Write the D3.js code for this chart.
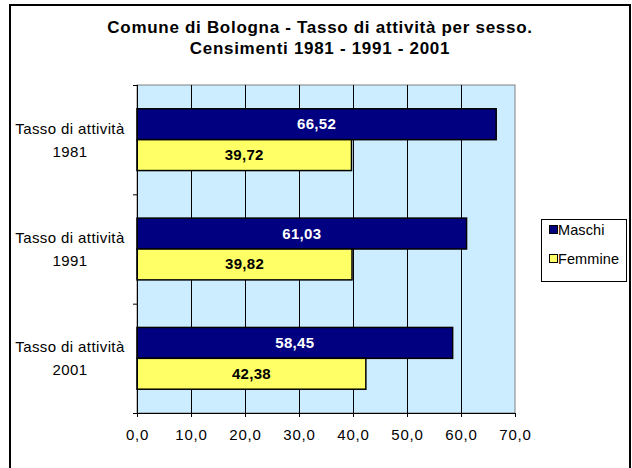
<!DOCTYPE html>
<html>
<head>
<meta charset="utf-8">
<script src="https://cdn.jsdelivr.net/npm/d3@7"></script>
<style>
  body { margin: 0; background: #fff; }
  text { font-family: "Liberation Sans", Arial, sans-serif; }
</style>
</head>
<body>
<div id="chart"></div>
<script>
// data
let years = ["1981", "1991", "2001"];
let series = ["Maschi", "Femmine"];
let maschi = [66.52, 61.03, 58.45];
let femmine = [39.72, 39.82, 42.38];
let xTicks = [0, 10, 20, 30, 40, 50, 60, 70];
let catLabel = "Tasso di attività";
let titleLines = ["Comune di Bologna - Tasso di attività per sesso.", "Censimenti 1981 - 1991 - 2001"];

let width = 632, height = 468;
let plot = {left: 137, right: 515, top: 85, bottom: 413};
let colors = {Maschi: "#000080", Femmine: "#FFFF66"};
let labelColors = {Maschi: "#FFFFFF", Femmine: "#000000"};

let svg = d3.select("#chart")
    .append("svg")
    .attr("width", width)
    .attr("height", height);

// outer frame
svg.append("rect")
    .attr("x", 10).attr("y", 5)
    .attr("width", 620).attr("height", 480)
    .attr("fill", "#fff")
    .attr("stroke", "#000")
    .attr("stroke-width", 2);

// title
svg.selectAll(".title").data(titleLines).enter()
    .append("text")
    .attr("class", "title")
    .attr("x", 320)
    .attr("y", (d, i) => 33 + i * 21)
    .attr("text-anchor", "middle")
    .style("font-size", "17px")
    .style("letter-spacing", "0.7px")
    .style("font-weight", "bold")
    .text(d => d);

let x = d3.scaleLinear()
    .domain([0, 70])
    .range([plot.left, plot.right]);

let y = d3.scaleBand()
    .domain(years)
    .range([plot.top, plot.bottom]);

let ySub = d3.scaleBand()
    .domain(series)
    .range([0, y.bandwidth()])
    .paddingInner(0)
    .paddingOuter(0.77);

// plot background
svg.append("rect")
    .attr("x", plot.left).attr("y", plot.top)
    .attr("width", plot.right - plot.left)
    .attr("height", plot.bottom - plot.top)
    .attr("fill", "#CCECFF")
    .attr("stroke", "#808080")
    .attr("stroke-width", 1);

// vertical gridlines
svg.append("g")
    .selectAll("line")
    .data(xTicks.filter(d => d > 0 && d < 70))
    .enter().append("line")
    .attr("x1", d => Math.round(x(d)) + 0.5)
    .attr("x2", d => Math.round(x(d)) + 0.5)
    .attr("y1", plot.top)
    .attr("y2", plot.bottom)
    .attr("stroke", "#000");

// bars
let rows = [];
years.forEach((yr, i) => {
    rows.push({year: yr, s: "Maschi", v: maschi[i]});
    rows.push({year: yr, s: "Femmine", v: femmine[i]});
});

svg.append("g").selectAll("rect")
    .data(rows)
    .enter().append("rect")
    .attr("x", x(0))
    .attr("y", d => y(d.year) + ySub(d.s))
    .attr("width", d => x(d.v) - x(0))
    .attr("height", ySub.bandwidth())
    .attr("fill", d => colors[d.s])
    .attr("stroke", "#000")
    .attr("stroke-width", 1.5);

svg.append("g").selectAll("text")
    .data(rows)
    .enter().append("text")
    .attr("x", d => (x(0) + x(d.v)) / 2)
    .attr("y", d => y(d.year) + ySub(d.s) + ySub.bandwidth() / 2 + 5)
    .attr("text-anchor", "middle")
    .style("font-size", "15px")
    .style("letter-spacing", "0.3px")
    .style("font-weight", "bold")
    .attr("fill", d => labelColors[d.s])
    .text(d => d.v.toFixed(2).replace(".", ","));

// x axis
let xAxis = svg.append("g")
    .attr("transform", `translate(0,${plot.bottom})`)
    .call(d3.axisBottom(x).tickValues(xTicks).tickSize(4).tickPadding(12)
        .tickFormat(d => d3.format(".1f")(d).replace(".", ",")));
xAxis.select(".domain").attr("stroke", "#000").attr("d", `M${plot.left - 4},0.5H${plot.right}`);
xAxis.selectAll("text").style("font-size", "15px").style("letter-spacing", "0.8px").attr("fill", "#000")
    .style("font-family", "Liberation Sans, Arial, sans-serif");

// y axis
let yAxis = svg.append("g")
    .attr("transform", `translate(${plot.left},0)`)
    .call(d3.axisLeft(y).tickValues([]).tickSize(0));
yAxis.select(".domain").attr("stroke", "#000").attr("d", `M0.5,${plot.top}V${plot.bottom}`);
yAxis.selectAll(".bound")
    .data(years.map(d => y(d)).concat([plot.bottom]))
    .enter().append("line")
    .attr("class", "bound")
    .attr("x1", -4).attr("x2", 0)
    .attr("y1", d => d + 0.5).attr("y2", d => d + 0.5)
    .attr("stroke", "#000");

// category labels
let cat = svg.append("g").selectAll("g")
    .data(years)
    .enter().append("g")
    .attr("transform", d => `translate(70,${y(d) + y.bandwidth() / 2})`);
cat.append("text")
    .attr("y", -6)
    .attr("text-anchor", "middle")
    .style("font-size", "15px")
    .style("letter-spacing", "0.4px")
    .text(catLabel);
cat.append("text")
    .attr("y", 17)
    .attr("text-anchor", "middle")
    .style("font-size", "15px")
    .style("letter-spacing", "0.4px")
    .text(d => d);

// legend
let legend = svg.append("g").attr("transform", "translate(541,219)");
legend.append("rect")
    .attr("x", 0.5).attr("y", 0.5)
    .attr("width", 85).attr("height", 62)
    .attr("fill", "#fff")
    .attr("stroke", "#000");
let li = legend.selectAll(".item")
    .data(series)
    .enter().append("g")
    .attr("class", "item")
    .attr("transform", (d, i) => `translate(8,${15 + i * 29})`);
li.append("rect")
    .attr("x", 0.5).attr("y", -8.5)
    .attr("width", 8).attr("height", 8)
    .attr("fill", d => colors[d])
    .attr("stroke", "#000");
li.append("text")
    .attr("x", 9)
    .attr("y", 1)
    .style("font-size", "14.5px")
    .style("letter-spacing", "0.1px")
    .text(d => d);
</script>
</body>
</html>
